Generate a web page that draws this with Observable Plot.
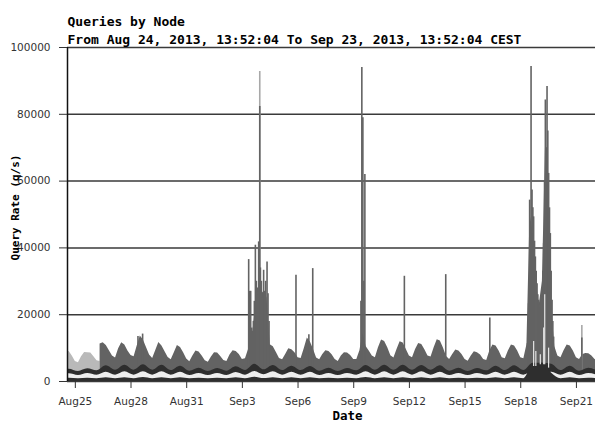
<!DOCTYPE html>
<html><head><meta charset="utf-8">
<script src="https://cdn.jsdelivr.net/npm/d3@7"></script>
<script src="https://cdn.jsdelivr.net/npm/@observablehq/plot@0.6"></script>
<style>
html,body{margin:0;padding:0;background:#fff;overflow:hidden;}
#chart svg{display:block;}
</style></head><body><div id="chart"></div>
<script>
const parse = d3.utcParse("%Y-%m-%dT%H:%M");

// ---- texts ----
const title = "Queries by Node";
const subtitle = "From Aug 24, 2013, 13:52:04 To Sep 23, 2013, 13:52:04 CEST";
const yLabel = "Query Rate (q/s)";
const xLabel = "Date";

// ---- axes ----
const domainStart = "2013-08-24T13:52";
const domainEnd = "2013-09-22T00:40";
const xTicks = ["2013-08-25T00:00","2013-08-28T00:00","2013-08-31T00:00","2013-09-03T00:00","2013-09-06T00:00",
                "2013-09-09T00:00","2013-09-12T00:00","2013-09-15T00:00","2013-09-18T00:00","2013-09-21T00:00"];
const yTicks = [0, 20000, 40000, 60000, 80000, 100000];

// ---- light-grey node (top layer at the start), 4-hourly from lightStart ----
const lightStart = "2013-08-24T12:00";
const lightTop = [9000, 9000, 7600, 6000, 5600, 7400, 8700, 8600, 8500, 7400, 6200, 6000];

// ---- stacked total (grey node on top), 4-hourly from grayStart ----
const grayStart = "2013-08-26T08:00";
const grayTop = [
  11200, 11600, 10800, 9200,
  7600, 7000, 9800, 11600, 10900, 9100,
  7800, 7400, 10600, 13600, 12400, 10200,
  7900, 6900, 9300, 11700, 10600, 8900,
  7200, 6500, 8600, 10800, 10200, 8600,
  6700, 5900, 7600, 9100, 8800, 7600,
  6200, 5800, 7300, 8600, 8500, 7500,
  6300, 6000, 7900, 9200, 9000, 8100,
  6600, 6800, 9600, 11300, 20000, 27000,
  26000, 27000, 25000, 11000, 10400, 8700,
  6900, 6500, 8100, 9800, 9500, 8600,
  7100, 6900, 9800, 13000, 11800, 9600,
  7000, 6500, 8100, 9200, 9000, 8000,
  6600, 6000, 7600, 8600, 8500, 7800,
  6600, 6600, 9200, 14500, 10500, 9100,
  7600, 7100, 10100, 12400, 12000, 10100,
  7700, 7000, 9600, 11900, 11500, 9600,
  7600, 7100, 9600, 11400, 11100, 9500,
  7600, 7300, 10100, 12500, 12100, 10000,
  7500, 6600, 8100, 9400, 9100, 8100,
  6600, 6100, 7600, 8900, 8600, 7900,
  6600, 6300, 9100, 10900, 10600, 9100,
  7100, 6800, 9100, 10900, 10600, 9100,
  7100, 6800, 11000, 50000, 45000, 30000,
  23000, 30000, 70000, 55000, 22000, 10500,
  7600, 7100, 9200, 10900, 10600, 9100,
  7100, 6600, 8000, 8400, 8300, 7600,
  6600, 6100
];

// ---- lower stacked levels, 12-hourly (04:00 / 16:00) from bandStart ----
const bandStart = "2013-08-24T04:00";
const darkTop = [
  3000,3700, 3000,3800, 3200,4700, 3400,4900, 3400,5000, 3400,4900, 3300,4600, 3100,4000,
  3000,3900, 3100,4400, 3300,5200, 3500,4800, 3300,4600, 3300,4500, 3100,4000, 3000,3900,
  3200,4800, 3400,4900, 3400,4900, 3400,4800, 3400,4700, 3100,4000, 3000,3900, 3200,4600,
  3300,4700, 3300,5500, 5500,5200, 3300,4600, 3100,4000, 3000
];
const whiteTop = [
  1800,2300, 1800,2400, 1900,2800, 1900,2900, 1900,2900, 1900,2900, 1900,2800, 1800,2400,
  1800,2400, 1800,2700, 1900,3000, 2000,2900, 1900,2800, 1900,2800, 1800,2400, 1800,2400,
  1900,2900, 1900,2900, 1900,2900, 1900,2900, 1900,2800, 1800,2400, 1800,2400, 1900,2800,
  1900,2800, 1900,2900, 2500,2800, 1900,2800, 1800,2400, 1800
];
const baseTop = [
  800,1000, 800,1000, 850,1150, 850,1150, 850,1200, 850,1150, 850,1100, 800,1000,
  800,1000, 800,1100, 850,1300, 900,1150, 850,1100, 850,1100, 800,1000, 800,1000,
  850,1200, 850,1150, 850,1150, 850,1150, 850,1100, 800,1000, 800,1000, 850,1100,
  850,1100, 850,5000, 5500,2500, 850,1100, 800,1000, 800
];

// ---- short bursts (grey node) ----
const burstTimes = [
  "2013-08-28T09:00","2013-08-28T15:00",
  "2013-09-03T08:10","2013-09-03T09:25","2013-09-03T10:45","2013-09-03T12:00","2013-09-03T13:15","2013-09-03T14:15",
  "2013-09-03T15:30","2013-09-03T16:50","2013-09-03T18:05","2013-09-03T19:25","2013-09-03T20:10","2013-09-03T21:05",
  "2013-09-03T22:30","2013-09-03T23:20","2013-09-04T00:35","2013-09-04T01:55","2013-09-04T03:30","2013-09-04T04:50",
  "2013-09-04T06:05","2013-09-04T07:55","2013-09-04T09:10","2013-09-04T10:30",
  "2013-09-05T21:20","2013-09-06T14:00","2013-09-06T19:00",
  "2013-09-09T09:20","2013-09-09T10:30","2013-09-09T11:50","2013-09-09T13:10","2013-09-09T14:25",
  "2013-09-11T17:30","2013-09-13T23:00","2013-09-16T08:00",
  "2013-09-18T08:30","2013-09-18T10:10","2013-09-18T11:30","2013-09-18T12:25","2013-09-18T13:20","2013-09-18T14:35",
  "2013-09-18T15:40","2013-09-18T16:40","2013-09-18T17:50","2013-09-18T18:55","2013-09-18T20:00","2013-09-18T21:05",
  "2013-09-18T22:05","2013-09-18T23:05","2013-09-19T00:10","2013-09-19T01:20","2013-09-19T02:25","2013-09-19T03:30",
  "2013-09-19T04:35","2013-09-19T05:40","2013-09-19T06:45","2013-09-19T07:50","2013-09-19T08:55","2013-09-19T10:00",
  "2013-09-19T11:00","2013-09-19T12:05","2013-09-19T13:10","2013-09-19T14:15","2013-09-19T15:20","2013-09-19T16:30",
  "2013-09-19T17:30","2013-09-19T18:30",
  "2013-09-21T07:00"
];
const burstValues = [
  13500, 14200,
  36500, 27000, 27000, 16000, 15000, 18000,
  24000, 40800, 30000, 28000, 26000, 41800,
  82300, 34000, 30000, 25000, 33300, 27000,
  30000, 35800, 26300, 18000,
  31800, 14000, 33800,
  24000, 94000, 79000, 30000, 62000,
  31500, 32000, 19000,
  11300, 23300, 54300, 45000, 94300, 57300,
  52000, 49300, 42000, 37300, 33000, 29300,
  26000, 24300, 23000, 22300, 24000, 25300,
  33000, 41300, 60000, 84300, 70000, 88300,
  75000, 62300, 52000, 44300, 33000, 24300,
  18000, 13300,
  13000
];
// ---- bursts of the light node (show as light tips) ----
const lightBurstTimes = ["2013-09-03T22:30", "2013-09-21T07:00"];
const lightBurstValues = [92800, 16800];
// ---- light streaks inside the Sep 18-19 surge ----
const streakTimes = ["2013-09-18T16:40","2013-09-18T19:30","2013-09-19T01:20","2013-09-19T05:40","2013-09-19T07:00","2013-09-19T12:00"];
const streakLow   = [4500, 4500, 5000, 5000, 5000, 4000];
const streakHigh  = [12000, 9000, 8000, 16000, 26000, 10000];

// ---- build tables ----
const series = (start, stepH, values) => {
  const t0 = parse(start).getTime();
  return values.map((v, i) => ({t: new Date(t0 + i * stepH * 3600e3), v}));
};
const light = series(lightStart, 4, lightTop);
const gray = series(grayStart, 4, grayTop);
const dark = series(bandStart, 12, darkTop);
const white = series(bandStart, 12, whiteTop);
const base = series(bandStart, 12, baseTop);
const bursts = burstTimes.map((s, i) => ({t: parse(s), v: burstValues[i]}));
const lightBursts = lightBurstTimes.map((s, i) => ({t: parse(s), v: lightBurstValues[i]}));
const streaks = streakTimes.map((s, i) => ({t: parse(s), lo: streakLow[i], hi: streakHigh[i]}));

const x0 = parse(domainStart), x1 = parse(domainEnd);
const mono = "DejaVu Sans Mono";
const GRAY = "#636363", DARK = "#2e2e2e";

const chart = Plot.plot({
  width: 595, height: 423,
  marginLeft: 67, marginRight: 0, marginTop: 47, marginBottom: 42,
  style: {fontFamily: "DejaVu Sans", fontSize: "10.5px", color: "#333", background: "#fff"},
  x: {type: "utc", domain: [x0, x1]},
  y: {domain: [0, 100000]},
  marks: [
    Plot.gridY({ticks: yTicks, stroke: "#3a3a3a", strokeOpacity: 1, strokeWidth: 1.5}),
    Plot.areaY(light, {x: "t", y1: 0, y2: "v", fill: "#b9b9b9", clip: true}),
    Plot.areaY(gray, {x: "t", y1: 0, y2: "v", fill: GRAY, clip: true}),
    Plot.ruleX(lightBursts, {x: "t", y1: 0, y2: "v", stroke: "#a8a8a8", strokeWidth: 1.6, clip: true}),
    Plot.ruleX(bursts, {x: "t", y1: 0, y2: "v", stroke: GRAY, strokeWidth: 1.6, clip: true}),
    Plot.areaY(dark, {x: "t", y1: 0, y2: "v", fill: DARK, curve: "monotone-x", clip: true}),
    Plot.areaY(white, {x: "t", y1: 0, y2: "v", fill: "#eeeeee", curve: "monotone-x", clip: true}),
    Plot.areaY(base, {x: "t", y1: 0, y2: "v", fill: DARK, curve: "monotone-x", clip: true}),
    Plot.ruleX(streaks, {x: "t", y1: "lo", y2: "hi", stroke: "#e4e4e4", strokeWidth: 1.2, clip: true}),
    Plot.ruleX([x0], {stroke: "#111", strokeWidth: 1.5}),
    Plot.axisY({ticks: yTicks, tickFormat: d3.format("d"), tickSize: 8, tickPadding: 9, label: null}),
    Plot.axisX({ticks: xTicks.map(parse), tickFormat: d3.utcFormat("%b%-d"), tickSize: 7, tickPadding: 9, label: null}),
    Plot.text([title], {text: d => d, frameAnchor: "top-left", textAnchor: "start", lineAnchor: "middle", dy: -25.2,
      fontFamily: mono, fontWeight: "bold", fontSize: 13, fill: "#000"}),
    Plot.text([subtitle], {text: d => d, frameAnchor: "top-left", textAnchor: "start", lineAnchor: "middle", dy: -7.7,
      fontFamily: mono, fontWeight: "bold", fontSize: 13, fill: "#000"}),
    Plot.text([yLabel], {text: d => d, frameAnchor: "left", rotate: -90, textAnchor: "middle", dx: -52, dy: -7, lineAnchor: "middle",
      fontFamily: mono, fontWeight: "bold", fontSize: 11, fill: "#000"}),
    Plot.text([xLabel], {text: d => d, frameAnchor: "bottom", textAnchor: "middle", dx: 16, dy: 34.5, lineAnchor: "middle",
      fontFamily: mono, fontWeight: "bold", fontSize: 12.5, fill: "#000"})
  ]
});
document.getElementById("chart").append(chart);
</script>
</body></html>
